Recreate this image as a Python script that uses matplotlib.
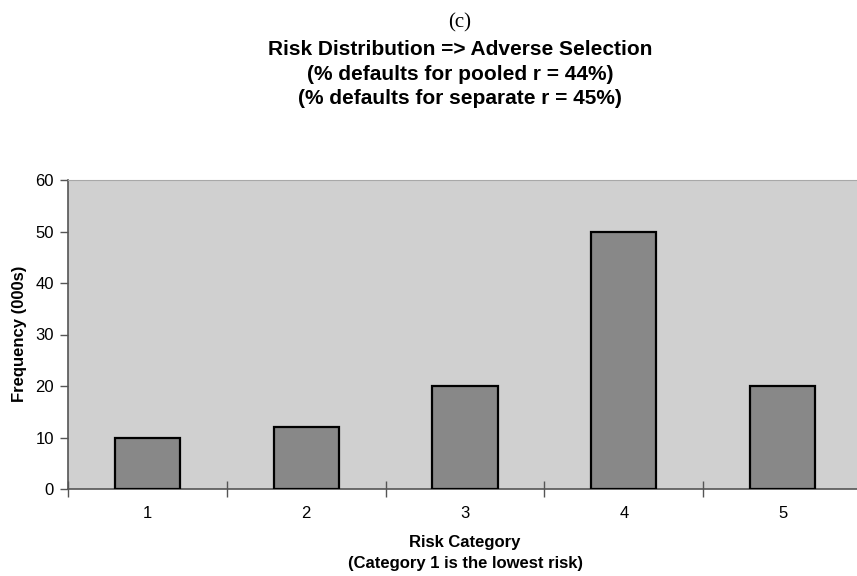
import matplotlib
matplotlib.use('Agg')
import matplotlib.pyplot as plt
from matplotlib.ticker import FixedLocator, NullFormatter

# --------------------------------------------------------------------------------------
# Data

categories  = [1, 2, 3, 4, 5]
frequency   = [10, 12, 20, 50, 20]
yticks      = [0, 10, 20, 30, 40, 50, 60]

title_top   = '(c)'
title_lines = ['Risk Distribution => Adverse Selection',
               '(% defaults for pooled r = 44%)',
               '(% defaults for separate r = 45%)']
xlabel      = ['Risk Category', '(Category 1 is the lowest risk)']
ylabel      = 'Frequency (000s)'

# --------------------------------------------------------------------------------------
# Chart

plt.rcParams['font.family'] = ['Liberation Sans', 'DejaVu Sans']

W, H = 857, 576
fig = plt.figure(figsize=(W / 100, H / 100), dpi=100)
ax = fig.add_axes([68 / W, 1 - 489 / H, 794 / W, 309 / H])

ax.set_facecolor('#d0d0d0')
ax.bar(categories, frequency, width=0.41, color='#888888', edgecolor='black',
       linewidth=1.6, zorder=3)

ax.set_xlim(0.5, 5.5)
ax.set_ylim(0, 60)

# spines
ax.spines['top'].set_color('#a8a8a8')
ax.spines['right'].set_visible(False)
ax.spines['left'].set_color('#555555')
ax.spines['bottom'].set_color('#555555')
ax.spines['left'].set_linewidth(1.2)
ax.spines['bottom'].set_linewidth(1.2)

# y
ax.set_yticks(yticks)
ax.tick_params(axis='y', direction='out', length=6, width=1, color='#555555',
               labelsize=12, pad=4)

# x: labels at centres, tick marks at boundaries
ax.set_xticks(categories)
ax.tick_params(axis='x', which='major', length=0, labelsize=12, pad=12.5)
ax.xaxis.set_minor_locator(FixedLocator([0.5, 1.5, 2.5, 3.5, 4.5]))
ax.xaxis.set_minor_formatter(NullFormatter())
ax.tick_params(axis='x', which='minor', direction='inout', length=12, width=1,
               color='#555555')

cx = (68 + 862) / 2 / W

fig.text(20 / W, 1 - 334 / H, ylabel, ha='center', va='center', rotation=90,
         fontsize=12, fontweight='bold')

fig.text(cx, 1 - 547 / H, xlabel[0], ha='center', va='baseline',
         fontsize=12, fontweight='bold')
fig.text(cx, 1 - 568 / H, xlabel[1], ha='center', va='baseline',
         fontsize=12, fontweight='bold')

fig.text(460 / W, 1 - 27 / H, title_top, ha='center', va='baseline', fontsize=15,
         family=['Liberation Serif', 'DejaVu Serif'])
for i, line in enumerate(title_lines):
    fig.text(460 / W, 1 - (55 + 24.5 * i) / H, line, ha='center', va='baseline',
             fontsize=15, fontweight='bold')

fig.savefig('out.png', dpi=100)
